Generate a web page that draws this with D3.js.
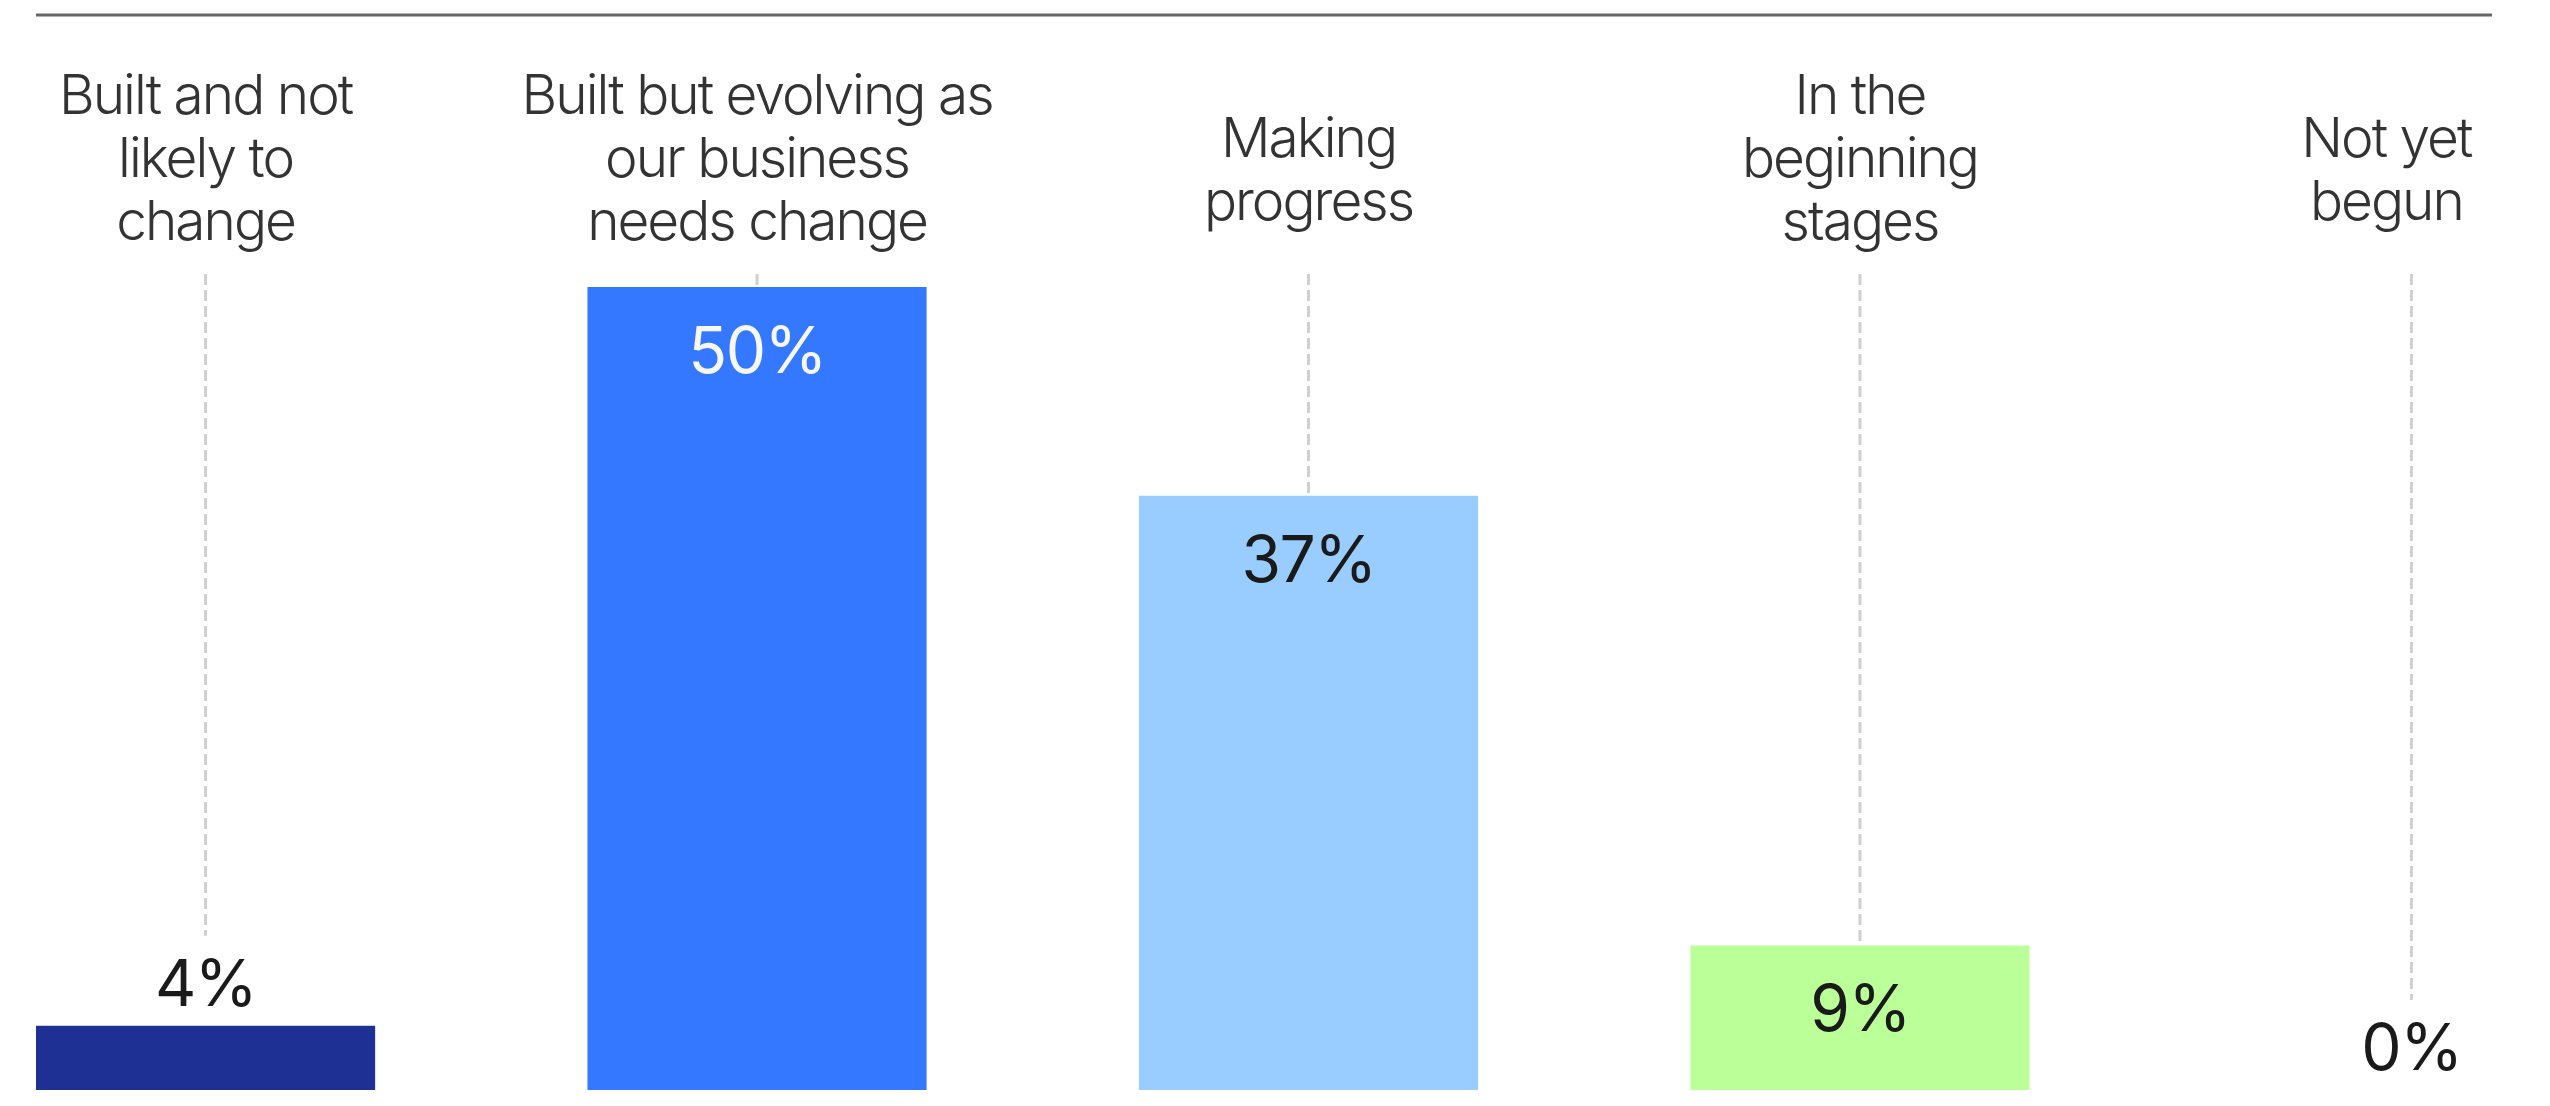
<!DOCTYPE html>
<html>
<head>
<meta charset="utf-8">
<script src="https://cdn.jsdelivr.net/npm/d3@7"></script>
<style>
  html, body { margin: 0; padding: 0; background: #ffffff; }
  svg { display: block; }
</style>
</head>
<body>
<svg id="chart" width="2550" height="1106"></svg>
<script>
// Survey answers, one bar per stage
const categories = [
  "Built and not likely to change",
  "Built but evolving as our business needs change",
  "Making progress",
  "In the beginning stages",
  "Not yet begun"
];
// Header lines for each category
const categoryLines = [
  ["Built and not", "likely to", "change"],
  ["Built but evolving as", "our business", "needs change"],
  ["Making", "progress"],
  ["In the", "beginning", "stages"],
  ["Not yet", "begun"]
];
const values = [4, 50, 37, 9, 0];
const barColors = ["#1e3094", "#3478ff", "#99ccff", "#bbff99", "#cccccc"];
const valueTextColors = ["#1a1a1a", "#f7f7f7", "#1a1a1a", "#1a1a1a", "#1a1a1a"];

const W = 2550, H = 1106;
const svg = d3.select("#chart");

const x = d3.scaleBand()
  .domain(categories)
  .range([36, 2581])
  .paddingInner(0.385)
  .paddingOuter(0);

const y = d3.scaleLinear()
  .domain([0, 50])
  .range([1090, 287]);

// Top rule
const ruleLeft = 36, ruleRight = 2492;
svg.append("line")
  .attr("x1", ruleLeft).attr("x2", ruleRight)
  .attr("y1", 15).attr("y2", 15)
  .attr("stroke", "#666666")
  .attr("stroke-width", 3);

const valueFont = 64;
const valueCap = 46;
const insideMin = 100; // bars shorter than this carry their value above

const cx = d => x(d) + x.bandwidth() / 2;
const isInside = i => (y(0) - y(values[i])) > insideMin;

// Category headers
const lineH = 63;
const headerRightLimit = ruleRight - 19;
const headers = svg.append("g")
  .attr("font-family", "Inter, 'Noto Sans', sans-serif")
  .attr("font-weight", 300)
  .attr("font-size", 55)
  .attr("letter-spacing", "-2px")
  .attr("fill", "#333333")
  .attr("text-anchor", "middle");

categories.forEach((c, i) => {
  const lines = categoryLines[i];
  const first = 114 + (3 - lines.length) * 43;
  const t = headers.append("text");
  lines.forEach((ln, j) => {
    t.append("tspan")
      .attr("x", cx(c))
      .attr("y", first + j * lineH)
      .text(ln);
  });
  // keep headers inside the rule's span
  const bb = t.node().getBBox();
  const over = bb.x + bb.width - headerRightLimit;
  if (over > 0) t.attr("transform", `translate(${-over},0)`);
});

// Dashed guide from the header down to each bar or its value
svg.append("g").selectAll("line")
  .data(categories)
  .join("line")
  .attr("x1", d => cx(d)).attr("x2", d => cx(d))
  .attr("y1", 274)
  .attr("y2", (d, i) => isInside(i) ? y(values[i]) : y(values[i]) - 20 - valueCap - 24)
  .attr("stroke", "#d0d0d0")
  .attr("stroke-width", 3)
  .attr("stroke-dasharray", "11 5");

// Bars
svg.append("g").selectAll("rect")
  .data(categories)
  .join("rect")
  .attr("x", d => x(d))
  .attr("y", (d, i) => y(values[i]))
  .attr("width", x.bandwidth())
  .attr("height", (d, i) => y(0) - y(values[i]))
  .attr("fill", (d, i) => barColors[i]);

// Value labels: inside near the top, or above short bars
svg.append("g").selectAll("text")
  .data(categories)
  .join("text")
  .attr("x", d => cx(d))
  .attr("y", (d, i) => isInside(i) ? y(values[i]) + 86 : y(values[i]) - 20)
  .attr("text-anchor", "middle")
  .attr("font-family", "Inter, 'Noto Sans', sans-serif")
  .attr("font-weight", 400)
  .attr("font-size", valueFont)
  .attr("letter-spacing", "-1.5px")
  .attr("fill", (d, i) => valueTextColors[i])
  .text((d, i) => values[i] + "%");
</script>
</body>
</html>
